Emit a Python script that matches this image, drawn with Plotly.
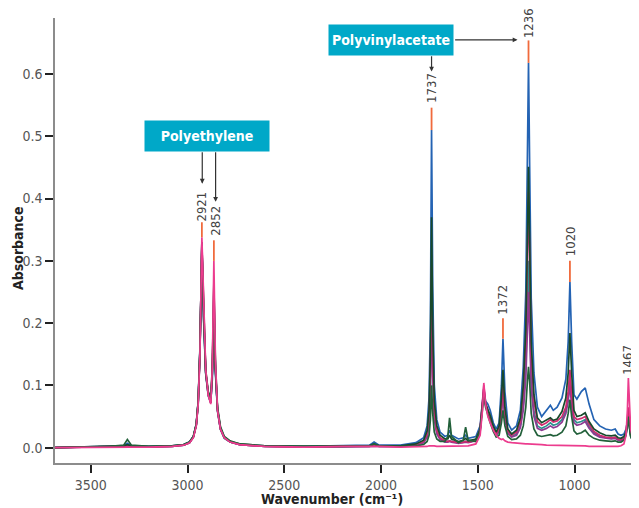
import plotly.graph_objects as go

wavenumber = [3685, 3500, 3400, 3330, 3311, 3290, 3200, 3080, 3020, 2990,
              2970, 2955, 2945, 2936, 2926, 2917, 2906, 2893, 2880, 2872,
              2864, 2856, 2845, 2830, 2810, 2780, 2730, 2600, 2400, 2200,
              2060, 2036, 2010, 1900, 1820, 1780, 1762, 1752, 1745, 1739,
              1733, 1725, 1712, 1695, 1670, 1655, 1646, 1636, 1600, 1575,
              1563, 1550, 1510, 1488, 1476, 1469, 1460, 1448, 1436, 1420,
              1405, 1390, 1378, 1370, 1360, 1345, 1325, 1300, 1280, 1265,
              1252, 1244, 1238, 1232, 1224, 1210, 1192, 1170, 1145, 1125,
              1110, 1090, 1065, 1045, 1033, 1024, 1015, 1003, 988, 965,
              945, 925, 900, 870, 840, 810, 790, 775, 760, 745,
              734, 727, 722, 717, 710, 700, 685, 667]

blue = [0.000, 0.002, 0.002, 0.003, 0.007, 0.003, 0.002, 0.003, 0.005, 0.009,
        0.018, 0.038, 0.075, 0.16, 0.325, 0.21, 0.12, 0.085, 0.075, 0.11,
        0.20, 0.12, 0.06, 0.03, 0.016, 0.009, 0.005, 0.003, 0.002, 0.003,
        0.004, 0.009, 0.004, 0.004, 0.008, 0.016, 0.035, 0.08, 0.20, 0.51,
        0.26, 0.10, 0.045, 0.025, 0.018, 0.02, 0.028, 0.02, 0.014, 0.016,
        0.02, 0.015, 0.018, 0.035, 0.07, 0.095, 0.075, 0.07, 0.06, 0.04,
        0.03, 0.04, 0.10, 0.175, 0.09, 0.04, 0.028, 0.035, 0.06, 0.13,
        0.25, 0.45, 0.618, 0.45, 0.24, 0.12, 0.065, 0.05, 0.06, 0.068,
        0.06, 0.065, 0.08, 0.11, 0.17, 0.266, 0.17, 0.085, 0.078, 0.09,
        0.096, 0.07, 0.045, 0.035, 0.03, 0.028, 0.03, 0.022, 0.02, 0.022,
        0.03, 0.04, 0.05, 0.04, 0.025, 0.016, 0.012, 0.01]

green1 = [0.000, 0.002, 0.002, 0.003, 0.005, 0.003, 0.002, 0.003, 0.005, 0.009,
          0.018, 0.037, 0.073, 0.155, 0.32, 0.21, 0.12, 0.088, 0.078, 0.12,
          0.22, 0.125, 0.062, 0.032, 0.017, 0.01, 0.006, 0.003, 0.002, 0.003,
          0.003, 0.006, 0.003, 0.003, 0.006, 0.012, 0.027, 0.06, 0.15, 0.37,
          0.19, 0.075, 0.035, 0.02, 0.014, 0.014, 0.02, 0.014, 0.01, 0.012,
          0.015, 0.011, 0.014, 0.03, 0.065, 0.09, 0.07, 0.062, 0.052, 0.035,
          0.025, 0.035, 0.08, 0.125, 0.065, 0.03, 0.022, 0.028, 0.048, 0.1,
          0.19, 0.33, 0.451, 0.33, 0.17, 0.085, 0.048, 0.04, 0.045, 0.048,
          0.044, 0.046, 0.058, 0.08, 0.12, 0.184, 0.12, 0.06, 0.05, 0.052,
          0.056, 0.042, 0.03, 0.024, 0.02, 0.019, 0.02, 0.016, 0.015, 0.018,
          0.025, 0.035, 0.045, 0.035, 0.02, 0.013, 0.01, 0.009]

crimson = [0.000, 0.001, 0.001, 0.002, 0.003, 0.002, 0.001, 0.002, 0.004, 0.008,
           0.017, 0.036, 0.072, 0.155, 0.33, 0.215, 0.122, 0.085, 0.072, 0.125,
           0.26, 0.13, 0.06, 0.03, 0.016, 0.009, 0.005, 0.002, 0.001, 0.002,
           0.002, 0.004, 0.002, 0.002, 0.005, 0.01, 0.022, 0.05, 0.12, 0.29,
           0.15, 0.06, 0.028, 0.016, 0.011, 0.01, 0.011, 0.01, 0.008, 0.009,
           0.01, 0.009, 0.012, 0.03, 0.07, 0.1, 0.072, 0.058, 0.048, 0.032,
           0.022, 0.03, 0.065, 0.10, 0.055, 0.027, 0.02, 0.025, 0.042, 0.09,
           0.17, 0.3, 0.41, 0.3, 0.15, 0.075, 0.042, 0.036, 0.04, 0.045,
           0.041, 0.043, 0.05, 0.065, 0.09, 0.125, 0.085, 0.05, 0.045, 0.047,
           0.05, 0.038, 0.026, 0.02, 0.017, 0.016, 0.017, 0.014, 0.013, 0.016,
           0.025, 0.045, 0.065, 0.045, 0.022, 0.013, 0.01, 0.008]

teal = [0.000, 0.001, 0.001, 0.002, 0.003, 0.002, 0.001, 0.002, 0.004, 0.008,
        0.017, 0.036, 0.07, 0.15, 0.32, 0.205, 0.118, 0.083, 0.072, 0.12,
        0.24, 0.125, 0.058, 0.029, 0.015, 0.009, 0.005, 0.002, 0.001, 0.002,
        0.002, 0.004, 0.002, 0.002, 0.004, 0.009, 0.019, 0.043, 0.1, 0.25,
        0.13, 0.052, 0.025, 0.015, 0.01, 0.01, 0.011, 0.01, 0.008, 0.009,
        0.01, 0.009, 0.012, 0.028, 0.065, 0.092, 0.068, 0.055, 0.045, 0.03,
        0.02, 0.027, 0.058, 0.09, 0.05, 0.025, 0.018, 0.022, 0.036, 0.07,
        0.13, 0.22, 0.30, 0.22, 0.11, 0.058, 0.035, 0.031, 0.035, 0.04,
        0.036, 0.038, 0.045, 0.06, 0.08, 0.11, 0.075, 0.045, 0.04, 0.042,
        0.045, 0.034, 0.024, 0.019, 0.016, 0.015, 0.016, 0.013, 0.012, 0.015,
        0.022, 0.035, 0.05, 0.035, 0.018, 0.011, 0.009, 0.008]

purple = [0.000, 0.001, 0.001, 0.002, 0.003, 0.002, 0.001, 0.002, 0.004, 0.008,
          0.017, 0.037, 0.072, 0.155, 0.33, 0.21, 0.12, 0.084, 0.072, 0.122,
          0.25, 0.128, 0.06, 0.03, 0.016, 0.009, 0.005, 0.002, 0.001, 0.002,
          0.002, 0.003, 0.002, 0.002, 0.004, 0.008, 0.017, 0.038, 0.09, 0.22,
          0.115, 0.046, 0.022, 0.013, 0.009, 0.009, 0.01, 0.009, 0.007, 0.008,
          0.009, 0.008, 0.011, 0.028, 0.066, 0.095, 0.07, 0.056, 0.046, 0.03,
          0.02, 0.026, 0.055, 0.085, 0.047, 0.023, 0.017, 0.02, 0.032, 0.06,
          0.11, 0.185, 0.25, 0.185, 0.095, 0.05, 0.031, 0.028, 0.031, 0.035,
          0.032, 0.034, 0.041, 0.055, 0.075, 0.10, 0.068, 0.04, 0.036, 0.038,
          0.042, 0.031, 0.022, 0.017, 0.015, 0.014, 0.015, 0.012, 0.011, 0.014,
          0.022, 0.04, 0.058, 0.04, 0.02, 0.012, 0.009, 0.008]

green2 = [0.000, 0.002, 0.002, 0.004, 0.013, 0.004, 0.002, 0.003, 0.005, 0.009,
          0.018, 0.038, 0.074, 0.158, 0.33, 0.215, 0.124, 0.09, 0.08, 0.13,
          0.265, 0.135, 0.065, 0.034, 0.018, 0.011, 0.006, 0.003, 0.002, 0.002,
          0.003, 0.006, 0.003, 0.002, 0.003, 0.005, 0.01, 0.02, 0.045, 0.10,
          0.055, 0.025, 0.014, 0.01, 0.01, 0.018, 0.048, 0.018, 0.008, 0.012,
          0.033, 0.012, 0.01, 0.026, 0.062, 0.088, 0.065, 0.05, 0.04, 0.026,
          0.017, 0.02, 0.04, 0.06, 0.035, 0.018, 0.013, 0.014, 0.02, 0.035,
          0.065, 0.105, 0.13, 0.105, 0.055, 0.03, 0.02, 0.018, 0.019, 0.021,
          0.019, 0.02, 0.025, 0.035, 0.055, 0.077, 0.05, 0.027, 0.022, 0.024,
          0.028, 0.02, 0.015, 0.012, 0.011, 0.01, 0.011, 0.009, 0.009, 0.012,
          0.02, 0.035, 0.05, 0.035, 0.018, 0.011, 0.009, 0.008]

polyethylene = [0.000, 0.001, 0.001, 0.001, 0.002, 0.001, 0.001, 0.002, 0.004, 0.008,
                0.016, 0.035, 0.07, 0.15, 0.338, 0.22, 0.125, 0.085, 0.07, 0.13,
                0.30, 0.14, 0.06, 0.03, 0.016, 0.009, 0.005, 0.002, 0.001, 0.002,
                0.002, 0.003, 0.002, 0.001, 0.001, 0.002, 0.002, 0.003, 0.003, 0.004,
                0.003, 0.003, 0.002, 0.002, 0.002, 0.002, 0.002, 0.002, 0.002, 0.002,
                0.002, 0.003, 0.006, 0.02, 0.06, 0.104, 0.07, 0.05, 0.04, 0.028,
                0.02, 0.015, 0.013, 0.014, 0.011, 0.009, 0.008, 0.007, 0.007, 0.006,
                0.006, 0.006, 0.006, 0.006, 0.006, 0.005, 0.005, 0.005, 0.004, 0.004,
                0.004, 0.004, 0.004, 0.004, 0.004, 0.004, 0.004, 0.003, 0.003, 0.003,
                0.003, 0.002, 0.002, 0.001, 0.001, 0.001, 0.002, 0.002, 0.003, 0.006,
                0.02, 0.06, 0.112, 0.07, 0.03, 0.015, 0.01, 0.008]

series = [
    ("blue", blue, "#2463b3"),
    ("teal", teal, "#2b918e"),
    ("purple", purple, "#8c3a92"),
    ("crimson", crimson, "#d02a6e"),
    ("green1", green1, "#18492c"),
    ("green2", green2, "#22603a"),
    ("polyethylene", polyethylene, "#ec3c8e"),
]

# peak labels
label_text = ["2921", "2852", "1737", "1236", "1020", "1372", "1467"]
label_x = [2928, 2860, 1739, 1238, 1020, 1372, 724]
label_y = [0.388, 0.364, 0.577, 0.681, 0.331, 0.237, 0.141]
mark_x = [2926, 2864, 1739, 1238, 1024, 1370]
mark_lo = [0.338, 0.300, 0.510, 0.618, 0.266, 0.175]
mark_hi = [0.362, 0.333, 0.546, 0.654, 0.300, 0.208]

x_ticks = [3500, 3000, 2500, 2000, 1500, 1000]
y_ticks = [0.0, 0.1, 0.2, 0.3, 0.4, 0.5, 0.6]

FONT = "DejaVu Sans Condensed, Liberation Sans Narrow, Roboto, sans-serif"

fig = go.Figure()
for name, vals, col in series:
    fig.add_trace(go.Scatter(x=wavenumber, y=vals, mode="lines", name=name,
                             line=dict(color=col, width=1.7), showlegend=False))

shapes = []
for mx, lo, hi in zip(mark_x, mark_lo, mark_hi):
    shapes.append(dict(type="line", xref="x", yref="y", x0=mx, x1=mx, y0=lo, y1=hi,
                       line=dict(color="#f06a3c", width=1.8)))

annotations = []
for t, x, y in zip(label_text, label_x, label_y):
    annotations.append(dict(x=x, y=y, xref="x", yref="y", text=t, showarrow=False,
                            textangle=-90, font=dict(family=FONT, size=13, color="#444")))

# boxes
annotations.append(dict(x=2899, y=0.501, xref="x", yref="y", text="<b>Polyethylene</b>",
                        showarrow=False, bgcolor="#00a8c8", width=122, height=28,
                        font=dict(family=FONT, size=14, color="white")))
annotations.append(dict(x=1951, y=0.655, xref="x", yref="y", text="<b>Polyvinylacetate</b>",
                        showarrow=False, bgcolor="#00a8c8", width=122, height=28,
                        font=dict(family=FONT, size=14, color="white")))

arrows = [
    (2924, 0.424, 2924, 0.477),
    (2855, 0.395, 2855, 0.477),
    (1739, 0.604, 1739, 0.631),
    (1295, 0.655, 1625, 0.655),
]
for x, y, ax, ay in arrows:
    annotations.append(dict(x=x, y=y, ax=ax, ay=ay, xref="x", yref="y", axref="x", ayref="y",
                            text="", showarrow=True, arrowhead=2, arrowsize=0.8,
                            arrowwidth=1.2, arrowcolor="#333"))

annotations.append(dict(x=0.474, y=-0.082, xref="paper", yref="paper", xanchor="center",
                        text="<b>Wavenumber (cm\u207b\u00b9)</b>", showarrow=False,
                        yanchor="middle", font=dict(family=FONT, size=14, color="#222")))
annotations.append(dict(x=-0.0634, y=0.483, xref="paper", yref="paper", xanchor="center",
                        yanchor="middle", text="<b>Absorbance</b>", showarrow=False,
                        textangle=-90, font=dict(family=FONT, size=14, color="#222")))

# page has an 8px body margin: offset margins so the plot area lands where the reference has it
fig.update_layout(
    width=639, height=508,
    margin=dict(l=47, r=8, t=10, b=53, autoexpand=False),
    paper_bgcolor="white", plot_bgcolor="white",
    shapes=shapes, annotations=annotations,
    xaxis=dict(range=[3685, 667], tickvals=x_ticks, ticks="outside", ticklen=8,
               tickwidth=2, tickcolor="#222", showline=True, linecolor="#8c8c8c",
               linewidth=1.5, showgrid=False, zeroline=False, automargin=False,
               tickfont=dict(family=FONT, size=14, color="#555")),
    yaxis=dict(range=[-0.0246, 0.69], tickvals=y_ticks, tickformat=".1f",
               ticks="outside", ticklen=8, tickwidth=2, tickcolor="#222",
               showline=True, linecolor="#8c8c8c", linewidth=1.5, showgrid=False,
               zeroline=False, automargin=False,
               tickfont=dict(family=FONT, size=14, color="#555")),
)

fig.write_html("out.html")
